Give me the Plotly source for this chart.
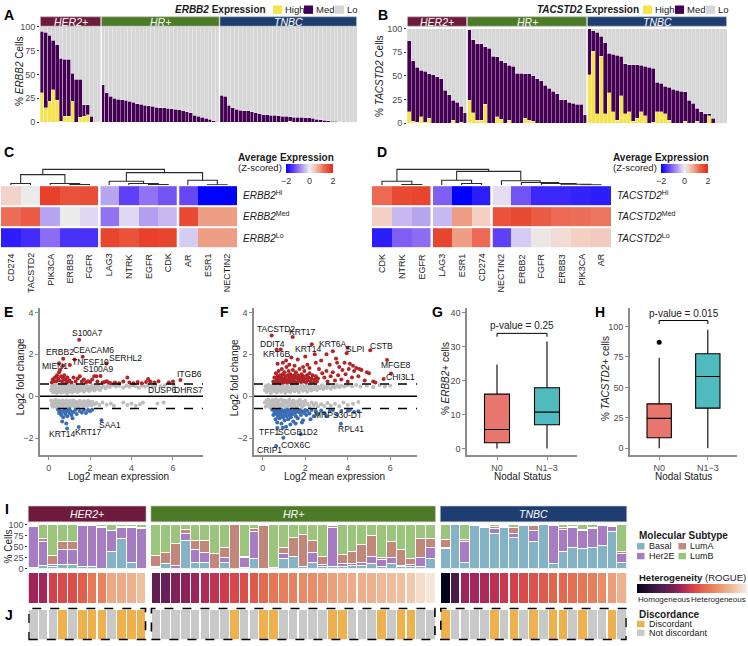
import plotly.graph_objects as go

W, H = 748, 646
FONT = "Liberation Sans, Arial, sans-serif"
TF = dict(family=FONT, size=9, color="#4D4D4D")


def fx(px):
    return px / W


def fy(py):
    return 1 - py / H


# ============================ DATA ============================
STRIP_HER2 = "#6E1A3C"
STRIP_HR = "#4D7A26"
STRIP_TNBC = "#1E3D70"

# ---- Panel A (% ERBB2 cells: total = High+Med, high = High)
A_HER2_TOTAL = [95, 94, 91, 86, 81, 67, 66, 66, 51, 45, 45, 18, 18, 6, 0, 0]
A_HER2_HIGH = [31, 15, 22, 34, 23, 1, 6, 6, 22, 0, 5, 6, 8, 0, 0, 0]
A_HR_TOTAL = [39, 31, 27, 25, 24, 23.5, 23, 22, 21, 19.5, 18.5, 17.5, 17, 16.5, 15.5, 15,
              15, 14.5, 14, 13.5, 13, 12, 11, 10, 7, 6, 5, 4, 3, 1.5, 0]
A_HR_HIGH = [0, 0, 0, 0, 0, 0, 0, 0, 0, 0, 0, 0, 0, 0, 0, 0,
             0, 0, 0, 0, 0, 0, 0, 0, 0, 0, 0, 0, 0, 0, 0]
A_TNBC_TOTAL = [28, 27, 17.5, 15, 13.5, 12.5, 12, 12, 11, 10, 9, 8, 7.5, 7, 7, 6.5, 6, 6,
                5.5, 5, 5, 5, 4.5, 4.5, 4, 3, 2.5, 2, 1.5, 1, 1, 0.5, 0, 0, 0, 0]
A_TNBC_HIGH = [0, 0, 0, 0, 0, 0, 0, 0, 0, 0, 0, 0, 0, 0, 0, 0, 0, 0,
               0.8, 0, 0, 0, 0, 0, 0, 0, 0, 0, 0, 0, 0, 0, 0, 0, 0, 0]

# ---- Panel B (% TACSTD2 cells)
B_HER2_TOTAL = [87, 66, 59, 56, 55, 52, 51, 49, 47, 35, 30, 24, 22, 18, 11]
B_HER2_HIGH = [12, 2, 1, 7, 1, 5, 0, 0, 0, 0, 0, 3, 0, 1, 0]
B_HR_TOTAL = [99, 88, 84, 84, 81, 79, 71, 70, 66, 64, 61, 60, 53, 53, 52, 52, 50, 47, 45, 40,
              37, 34, 31, 25, 25, 22, 21, 20, 20, 9]
B_HR_HIGH = [24, 11, 3, 3, 20, 0, 0, 7, 4, 0, 3, 0, 0, 0, 5, 3, 2, 0, 0, 0,
             0, 0, 0, 0, 0, 0, 0, 0, 0, 0]
B_TNBC_TOTAL = [100, 98, 96, 92, 85, 74, 73, 72, 71, 63, 62, 62, 62, 61, 60, 59, 58, 43, 42, 39,
                38, 36, 35, 34, 33, 24, 21, 16, 12, 10, 10, 5, 0, 0, 0]
B_TNBC_HIGH = [51, 76, 10, 71, 10, 32, 12, 3, 29, 10, 12, 2, 5, 12, 8, 0, 1, 12, 12, 10,
               3, 0, 0, 0, 2, 0, 0, 2, 0, 0, 8, 0, 0, 0, 0]

# ---- Panel C heatmap (z-scored average expression)
C_GENES = ["CD274", "TACSTD2", "PIK3CA", "ERBB3", "FGFR", "LAG3", "NTRK", "EGFR", "CDK", "AR", "ESR1", "NECTIN2"]
C_HI = [0.3, 0.0, 1.7, 1.5, 1.55, -0.55, -1.35, -0.95, -1.2, -1.3, -2.0, -2.0]
C_MED = [1.2, 1.4, -0.55, 0.0, -0.15, -0.95, -0.15, -0.6, -0.4, 1.6, 0.85, 0.85]
C_LO = [-1.7, -1.55, -1.0, -1.5, -1.5, 1.65, 1.5, 1.7, 1.65, -0.25, 0.85, 0.85]
C_ROWS = ["<i>ERBB2</i><sup>Hi</sup>", "<i>ERBB2</i><sup>Med</sup>", "<i>ERBB2</i><sup>Lo</sup>"]
C_SPLITS = [4.5, 8.5]
# dendrogram merges: (left node, right node, height)
C_MERGES = [(10, 11, 0.4), (3, 4, 0.7), (7, 8, 0.7), (0, 1, 1.7), (2, 13, 1.7), (6, 14, 1.7),
            (5, 17, 4.0), (9, 12, 5.0), (15, 16, 10.7), (18, 19, 12.7), (20, 21, 16.0)]

# ---- Panel D heatmap
D_GENES = ["CDK", "NTRK", "EGFR", "LAG3", "ESR1", "CD274", "NECTIN2", "ERBB2", "FGFR", "ERBB3", "PIK3CA", "AR"]
D_HI = [1.25, 1.6, 1.65, -1.1, -2.0, -1.7, -0.1, -1.2, -1.6, -1.6, -1.65, -1.7]
D_MED = [0.35, -0.4, -0.55, -0.4, 0.85, 0.35, 1.5, 1.6, 1.4, 1.25, 1.2, 1.15]
D_LO = [-1.7, -1.1, -1.0, 1.65, 0.85, 1.25, -1.35, -0.25, 0.05, 0.2, 0.35, 0.4]
D_ROWS = ["<i>TACSTD2</i><sup>Hi</sup>", "<i>TACSTD2</i><sup>Med</sup>", "<i>TACSTD2</i><sup>Lo</sup>"]
D_SPLITS = [2.5, 5.5]
D_MERGES = [(1, 2, 0.7), (0, 12, 4.0), (4, 5, 1.7), (3, 14, 5.0), (10, 11, 0.3), (9, 16, 1.0),
            (8, 17, 1.7), (7, 18, 2.7), (6, 19, 4.5), (15, 20, 14.0), (13, 21, 16.0)]

# ---- Panel E (log2 mean expression, log2 fold change)
E_GRAY = [(0.12, 0.30), (0.15, 0.45), (0.18, 0.22), (0.2, 0.52), (0.22, 0.35), (0.25, 0.18), (0.28, 0.42),
          (0.3, 0.28), (0.33, 0.5), (0.35, 0.2), (0.38, 0.38), (0.4, 0.15), (0.42, 0.47), (0.45, 0.3),
          (0.48, 0.55), (0.5, 0.22), (0.52, 0.4), (0.55, 0.32), (0.58, 0.5), (0.6, 0.18), (0.62, 0.44),
          (0.65, 0.27), (0.68, 0.36), (0.7, 0.52), (0.72, 0.2), (0.75, 0.42), (0.78, 0.3), (0.8, 0.48),
          (0.82, 0.24), (0.85, 0.38), (0.88, 0.16), (0.9, 0.54), (0.92, 0.32), (0.95, 0.44), (0.98, 0.22),
          (1.0, 0.36), (1.03, 0.5), (1.06, 0.28), (1.1, 0.42), (1.13, 0.18), (1.16, 0.34), (1.2, 0.5),
          (1.23, 0.25), (1.26, 0.44), (1.3, 0.3), (1.34, 0.52), (1.38, 0.2), (1.42, 0.38), (1.46, 0.46),
          (1.5, 0.26), (1.55, 0.4), (1.6, 0.32), (1.65, 0.5), (1.7, 0.22), (1.75, 0.42), (1.8, 0.3),
          (1.85, 0.48), (1.9, 0.36), (1.95, 0.25), (2.0, 0.44), (2.05, 0.32), (2.1, 0.52), (2.15, 0.38),
          (2.2, 0.28), (2.25, 0.46), (2.32, 0.36), (2.4, 0.5), (2.48, 0.3), (2.55, 0.42), (2.65, 0.48),
          (2.75, 0.38), (2.85, 0.5), (2.95, 0.44), (3.1, 0.52), (3.25, 0.46), (3.4, 0.5), (3.6, 0.42),
          (3.75, 0.5), (3.9, 0.45), (4.05, 0.52), (4.2, 0.48), (4.35, 0.4), (4.5, 0.5), (4.65, 0.46),
          (4.8, 0.52), (5.0, 0.44), (5.15, 0.5), (5.4, 0.48), (5.6, 0.52), (6.05, 0.5),
          (0.12, -0.2), (0.15, -0.4), (0.18, -0.3), (0.2, -0.5), (0.23, -0.25), (0.26, -0.45), (0.3, -0.35),
          (0.33, -0.18), (0.36, -0.5), (0.4, -0.28), (0.43, -0.42), (0.46, -0.2), (0.5, -0.36), (0.53, -0.52),
          (0.56, -0.25), (0.6, -0.44), (0.63, -0.32), (0.66, -0.2), (0.7, -0.48), (0.73, -0.38), (0.76, -0.26),
          (0.8, -0.5), (0.83, -0.34), (0.86, -0.2), (0.9, -0.44), (0.93, -0.28), (0.96, -0.52), (1.0, -0.36),
          (1.04, -0.22), (1.08, -0.46), (1.12, -0.3), (1.16, -0.4), (1.2, -0.2), (1.24, -0.5), (1.28, -0.34),
          (1.32, -0.26), (1.36, -0.44), (1.4, -0.32), (1.45, -0.5), (1.5, -0.22), (1.55, -0.38), (1.6, -0.3),
          (1.65, -0.46), (1.7, -0.24), (1.75, -0.4), (1.8, -0.3), (1.85, -0.48), (1.9, -0.22), (1.95, -0.36),
          (2.0, -0.3), (2.05, -0.44), (2.1, -0.26), (2.2, -0.38), (2.3, -0.32), (2.45, -0.42), (2.6, -0.3),
          (2.8, -0.4), (3.0, -0.35), (3.15, -0.45), (3.6, -0.3), (3.8, -0.42), (4.0, -0.35), (4.2, -0.45),
          (4.4, -0.38), (4.55, -0.3), (5.25, -0.35), (5.55, -0.3)]
E_UP = [(0.15, 0.65), (0.2, 0.8), (0.25, 0.72), (0.3, 0.9), (0.35, 0.7), (0.4, 1.0), (0.45, 0.85),
        (0.5, 1.15), (0.55, 1.25), (0.5, 0.75), (0.6, 0.95), (0.65, 0.7), (0.7, 0.85), (0.75, 1.0),
        (0.8, 0.8), (0.85, 0.65), (0.9, 0.9), (0.95, 0.7), (1.0, 0.75), (1.02, 1.49), (0.7, 1.45),
        (1.1, 0.65), (1.2, 0.9), (1.3, 0.7), (1.4, 0.85), (1.5, 0.95), (1.6, 0.7), (1.7, 0.8),
        (1.8, 0.65), (1.9, 0.72), (2.0, 0.68), (2.1, 0.8), (2.2, 0.95), (2.3, 0.95), (2.35, 0.7),
        (2.6, 0.65), (2.7, 0.68), (2.8, 0.72), (2.9, 0.65), (3.0, 0.62), (3.2, 0.65), (3.4, 0.62),
        (3.6, 0.7), (3.8, 0.9), (3.9, 0.65), (4.1, 0.62), (4.3, 0.68), (4.5, 0.62), (4.7, 0.68),
        (4.8, 0.82), (4.9, 0.7), (5.1, 0.65), (5.3, 0.72), (5.8, 0.65), (6.0, 0.7),
        (1.47, 2.7), (1.64, 1.89), (0.7, 1.79), (0.5, 1.57), (1.25, 1.75), (2.79, 1.56), (2.5, 0.97),
        (6.36, 0.77)]
E_DOWN = [(0.45, -0.65), (0.5, -0.8), (0.55, -0.7), (0.6, -0.9), (0.65, -0.75), (0.7, -1.0), (0.75, -0.68),
          (0.8, -0.85), (0.85, -0.72), (0.9, -0.95), (0.95, -0.65), (1.0, -0.8), (1.05, -0.7), (1.1, -0.9),
          (1.15, -1.05), (1.2, -0.75), (1.3, -0.65), (1.35, -0.85), (1.5, -0.7), (1.6, -0.78), (1.7, -0.65),
          (1.8, -0.8), (1.9, -0.66), (2.0, -0.72), (2.1, -0.65), (0.65, -1.2), (0.85, -1.3), (1.0, -0.62),
          (0.89, -1.54), (1.45, -1.47), (2.55, -1.15)]
E_LABELS = [("S100A7", 1.89, 3.02), ("ERBB2", 0.53, 2.11), ("CEACAM6", 2.17, 2.2), ("MIEN1", 0.31, 1.45),
            ("TNFSF10", 2.03, 1.63), ("SERHL2", 3.7, 1.84), ("S100A9", 2.42, 1.29), ("ITGB6", 6.78, 1.04),
            ("DUSP6", 5.51, 0.31), ("DHRS7", 6.77, 0.31), ("KRT14", 0.69, -1.78), ("KRT17", 1.92, -1.7),
            ("SAA1", 2.98, -1.39)]

# ---- Panel F
F_GRAY = [(0.1, 0.3), (0.14, 0.48), (0.18, 0.2), (0.22, 0.4), (0.26, 0.55), (0.3, 0.28), (0.34, 0.45),
          (0.38, 0.15), (0.42, 0.36), (0.46, 0.52), (0.5, 0.24), (0.54, 0.42), (0.58, 0.32), (0.62, 0.5),
          (0.66, 0.18), (0.7, 0.38), (0.74, 0.28), (0.78, 0.54), (0.82, 0.44), (0.86, 0.22), (0.9, 0.35),
          (0.94, 0.5), (0.98, 0.27), (1.02, 0.42), (1.06, 0.16), (1.1, 0.34), (1.14, 0.53), (1.18, 0.25),
          (1.22, 0.45), (1.26, 0.36), (1.3, 0.2), (1.34, 0.5), (1.38, 0.3), (1.42, 0.42), (1.46, 0.55),
          (1.5, 0.24), (1.55, 0.38), (1.6, 0.48), (1.65, 0.3), (1.7, 0.2), (1.75, 0.44), (1.8, 0.35),
          (1.85, 0.52), (1.9, 0.26), (1.95, 0.4), (2.0, 0.32), (2.05, 0.5), (2.1, 0.22), (2.15, 0.44),
          (2.2, 0.36), (2.25, 0.54), (2.3, 0.28), (2.36, 0.42), (2.42, 0.34), (2.48, 0.5), (2.55, 0.3),
          (2.62, 0.44), (2.7, 0.38), (2.78, 0.52), (2.86, 0.34), (2.94, 0.46), (3.02, 0.4), (3.1, 0.52),
          (3.2, 0.36), (3.3, 0.48), (3.4, 0.42), (3.5, 0.54), (3.6, 0.44), (3.7, 0.5), (3.85, 0.46),
          (4.0, 0.52), (4.2, 0.48), (4.4, 0.54), (4.6, 0.46), (4.9, 0.5), (5.2, 0.44), (5.5, 0.52),
          (5.75, 0.46), (6.0, 0.5),
          (0.1, -0.3), (0.14, -0.5), (0.18, -0.2), (0.22, -0.42), (0.26, -0.15), (0.3, -0.34), (0.34, -0.52),
          (0.38, -0.25), (0.42, -0.44), (0.46, -0.18), (0.5, -0.36), (0.54, -0.5), (0.58, -0.28), (0.62, -0.14),
          (0.66, -0.44), (0.7, -0.32), (0.74, -0.22), (0.78, -0.52), (0.82, -0.38), (0.86, -0.16), (0.9, -0.46),
          (0.94, -0.28), (0.98, -0.4), (1.02, -0.2), (1.06, -0.54), (1.1, -0.34), (1.14, -0.24), (1.18, -0.48),
          (1.22, -0.3), (1.26, -0.16), (1.3, -0.42), (1.34, -0.26), (1.38, -0.5), (1.42, -0.36), (1.46, -0.2),
          (1.5, -0.44), (1.55, -0.3), (1.6, -0.52), (1.65, -0.24), (1.7, -0.4), (1.75, -0.18), (1.8, -0.34),
          (1.85, -0.5), (1.9, -0.28), (1.95, -0.42), (2.0, -0.22), (2.1, -0.36), (2.2, -0.48), (2.3, -0.3),
          (2.4, -0.42), (2.5, -0.34), (2.6, -0.48), (2.75, -0.38), (2.9, -0.46), (3.05, -0.32), (3.2, -0.44),
          (3.4, -0.36), (3.6, -0.48), (3.8, -0.3), (4.0, -0.42), (4.25, -0.36), (4.5, -0.28)]
F_UP = [(0.5, 0.7), (0.55, 0.9), (0.6, 0.65), (0.62, 1.1), (0.65, 0.8), (0.7, 0.95), (0.72, 0.68), (0.75, 1.2),
        (0.78, 0.85), (0.8, 0.7), (0.82, 1.0), (0.85, 0.62), (0.88, 0.9), (0.9, 1.3), (0.92, 0.75), (0.95, 1.05),
        (0.98, 0.66), (1.0, 0.85), (1.02, 1.15), (1.05, 0.7), (1.08, 0.95), (1.1, 0.8), (1.12, 1.4), (1.15, 0.65),
        (1.18, 1.0), (1.2, 0.75), (1.22, 1.2), (1.25, 0.88), (1.28, 0.68), (1.3, 1.05), (1.33, 0.78), (1.36, 0.95),
        (1.4, 0.64), (1.42, 1.25), (1.45, 0.82), (1.48, 1.0), (1.5, 0.7), (1.53, 0.9), (1.56, 1.15), (1.6, 0.66),
        (1.63, 0.85), (1.66, 1.0), (1.7, 0.74), (1.73, 1.3), (1.76, 0.9), (1.8, 0.68), (1.83, 1.05), (1.86, 0.8),
        (1.9, 0.95), (1.93, 0.7), (1.96, 1.2), (2.0, 0.85), (2.04, 0.66), (2.08, 1.0), (2.12, 0.76), (2.16, 0.9),
        (2.2, 1.1), (2.25, 0.7), (2.3, 0.85), (2.35, 1.0), (2.4, 0.68), (2.45, 0.8), (2.5, 0.95), (2.55, 0.7),
        (2.6, 0.85), (0.7, 1.55), (0.95, 1.6), (1.25, 1.5), (1.5, 1.45), (1.65, 1.75), (1.9, 1.4), (2.1, 1.5),
        (2.2, 1.35), (2.5, 1.6), (2.65, 1.3), (2.8, 1.1), (2.9, 0.9), (3.0, 1.2), (3.05, 0.7), (3.15, 1.5),
        (3.2, 0.95), (3.3, 1.15), (3.4, 0.75), (3.45, 1.8), (3.55, 1.0), (3.6, 1.4), (3.7, 0.8), (3.75, 1.25),
        (3.85, 1.6), (3.9, 1.05), (3.95, 2.05), (4.0, 0.7), (4.05, 1.3), (4.1, 1.55), (4.2, 0.9), (4.25, 1.45),
        (4.3, 1.2), (4.4, 1.35), (4.5, 0.95), (4.55, 1.3), (4.65, 1.25), (4.8, 0.75), (4.9, 1.15), (5.0, 1.1),
        (5.2, 0.7), (5.3, 0.65), (2.45, 2.0), (2.0, 1.9), (1.35, 1.85), (3.0, 2.0), (3.5, 1.6), (1.1, 1.7),
        (2.75, 1.7), (0.42, 2.9), (1.41, 2.83), (0.66, 2.23), (0.85, 2.23), (2.31, 2.48), (3.3, 2.15),
        (3.99, 2.31), (5.06, 2.2), (5.85, 1.73), (6.04, 1.08), (5.69, 0.82)]
F_DOWN = [(0.45, -0.65), (0.5, -0.9), (0.55, -0.75), (0.6, -1.1), (0.62, -0.68), (0.65, -0.85), (0.68, -1.25),
          (0.7, -0.72), (0.72, -0.98), (0.75, -0.64), (0.78, -0.82), (0.8, -1.05), (0.82, -0.7), (0.85, -0.9),
          (0.88, -1.3), (0.9, -0.66), (0.92, -0.78), (0.95, -1.0), (0.98, -0.72), (1.0, -0.88), (1.03, -1.15),
          (1.06, -0.68), (1.1, -0.8), (1.13, -0.95), (1.16, -0.64), (1.2, -1.1), (1.23, -0.76), (1.26, -0.88),
          (1.3, -0.66), (1.33, -1.0), (1.36, -0.74), (1.4, -0.86), (1.44, -1.2), (1.48, -0.68), (1.52, -0.8),
          (1.56, -0.95), (1.6, -0.7), (1.65, -1.05), (1.7, -0.76), (1.75, -0.66), (1.8, -0.9), (1.85, -0.72),
          (1.9, -1.15), (1.95, -0.8), (2.0, -0.66), (2.05, -0.9), (2.1, -0.7), (2.2, -0.82), (2.3, -0.66),
          (2.4, -0.95), (2.5, -0.72), (2.6, -0.85), (2.75, -0.68), (2.9, -0.8), (3.0, -0.95), (3.15, -0.7),
          (3.3, -0.66), (3.5, -0.88), (3.7, -0.7), (4.1, -0.66), (4.3, -0.75), (4.5, -0.72), (1.1, -1.45),
          (1.3, -1.35), (0.95, -1.5), (1.55, -1.3), (1.85, -1.25), (2.25, -1.1), (4.0, -0.7), (3.68, -1.31),
          (0.69, -1.51), (1.79, -1.81), (0.63, -2.38), (0.97, -1.98)]
F_LABELS = [("TACSTD2", 0.61, 3.21), ("KRT17", 1.89, 3.07), ("DDIT4", 0.45, 2.51), ("KRT6B", 0.69, 2.0),
            ("KRT14", 2.15, 2.26), ("KRT6A", 3.33, 2.47), ("SLPI", 4.34, 2.24), ("CSTB", 5.58, 2.42),
            ("MFGE8", 6.29, 1.49), ("CHI3L1", 6.48, 0.9), ("MRPS30-DT", 3.52, -0.91), ("RPL41", 4.17, -1.54),
            ("TFF1", 0.3, -1.7), ("SCGB1D2", 1.68, -1.7), ("CRIP1", 0.3, -2.56), ("COX6C", 1.52, -2.33)]

# ---- Panels G / H (box statistics: N0, N1-3)
NODAL = ["N0", "N1−3"]
G_LOW = [0, 0]
G_Q1 = [1.7, 7.0]
G_MED = [5.6, 10.7]
G_Q3 = [16.0, 17.9]
G_HIGH = [24.7, 31.5]
G_PVAL = "p-value = 0.25"
H_LOW = [0, 0]
H_Q1 = [8.7, 33.0]
H_MED = [24.6, 59.0]
H_Q3 = [36.5, 77.6]
H_HIGH = [74.4, 97.3]
H_OUTLIER = [87]
H_PVAL = "p-value = 0.015"

# ---- Panel I (molecular subtype %, per patient)
I_HER2_BASAL = [3, 8, 5, 9, 9, 4, 4, 1, 38, 68, 15, 1]
I_HER2_HER2E = [94, 55, 4, 35, 35, 94, 94, 94, 50, 26, 80, 91]
I_HER2_LUMA = [2, 6, 21, 19, 19, 2, 1, 2, 0, 2, 2, 3]
I_HER2_LUMB = [1, 31, 70, 37, 37, 0, 1, 3, 12, 4, 3, 5]
I_HR_BASAL = [3, 12, 0, 65, 15, 15, 0, 13, 0, 2, 23, 0, 0, 23, 27, 4, 15, 4, 5, 5, 8, 8, 12, 5, 12, 4, 4, 5, 23]
I_HR_HER2E = [2, 0, 7, 15, 29, 21, 1, 12, 0, 23, 62, 1, 2, 11, 1, 0, 21, 5, 90, 6, 4, 5, 16, 16, 13, 3, 5, 21, 26]
I_HR_LUMA = [26, 24, 50, 10, 21, 29, 33, 23, 100, 3, 7, 97, 0, 14, 43, 73, 29, 19, 3, 21, 26, 42, 47, 4, 37, 37, 13, 43, 20]
I_HR_LUMB = [69, 64, 43, 10, 35, 35, 66, 52, 0, 72, 8, 2, 98, 52, 29, 23, 35, 72, 2, 68, 62, 45, 25, 75, 38, 56, 78, 31, 31]
I_TNBC_BASAL = [46, 100, 15, 99, 95, 81, 94, 71, 98, 62, 100, 11, 38, 48, 46, 48, 52, 85, 15]
I_TNBC_HER2E = [2, 0, 48, 0, 2, 11, 2, 9, 0, 24, 0, 87, 52, 46, 40, 44, 46, 11, 20]
I_TNBC_LUMA = [19, 0, 4, 0, 2, 4, 2, 14, 1, 12, 0, 1, 4, 2, 4, 3, 0, 2, 5]
I_TNBC_LUMB = [33, 0, 33, 1, 1, 4, 2, 6, 1, 2, 0, 1, 6, 4, 10, 5, 2, 2, 60]
# heterogeneity (ROGUE, scaled 0 = homogeneous .. 1 = heterogeneous)
I_HER2_ROGUE = [0.40, 0.41, 0.50, 0.53, 0.54, 0.58, 0.66, 0.69, 0.80, 0.81, 0.83, 0.87]
I_HR_ROGUE = [0.27, 0.30, 0.34, 0.36, 0.39, 0.43, 0.46, 0.49, 0.52, 0.54, 0.57, 0.62, 0.65, 0.68, 0.69,
              0.71, 0.72, 0.74, 0.78, 0.80, 0.81, 0.82, 0.83, 0.85, 0.86, 0.87, 0.90, 0.95, 0.98]
I_TNBC_ROGUE = [0.0, 0.2, 0.4, 0.41, 0.42, 0.45, 0.48, 0.5, 0.53, 0.55, 0.57, 0.6, 0.61, 0.63, 0.65,
                0.68, 0.72, 0.77, 0.83]
# ---- Panel J (1 = discordant)
J_HER2 = [0, 0, 0, 1, 0, 1, 1, 1, 0, 1, 1, 1]
J_HR = [0, 0, 0, 0, 0, 0, 0, 0, 1, 0, 0, 1, 1, 0, 0, 0, 0, 0, 1, 1, 0, 0, 0, 1, 0, 1, 1, 0, 0]
J_TNBC = [1, 0, 0, 0, 0, 1, 0, 1, 0, 1, 0, 1, 1, 0, 1, 0, 0, 1, 0]

# ============================ STYLE ============================
YELLOW, PURPLE, LOGRAY = "#F6E54A", "#440154", "#D6D6D6"
RED, BLUE, GRAY = "#B22428", "#3A6DB5", "#BDBDBD"
SAL, TEAL = "#E8766E", "#4FBBBF"
C_BASAL, C_HER2E, C_LUMA, C_LUMB = "#84B3C6", "#A67CC2", "#C1877A", "#9BC47D"
ORANGE, NDGRAY = "#EFB04E", "#C9C9C9"
DIV_SCALE = [[0, "#0000FF"], [0.1625, "#6040F6"], [0.25, "#8B6CF2"], [0.3625, "#B8A5F0"],
             [0.4625, "#E0D8F2"], [0.5, "#EBEBEB"], [0.5875, "#F3CFC4"], [0.7125, "#EE9E84"],
             [0.8, "#EC6E58"], [0.875, "#E9533C"], [0.925, "#E8402A"], [1, "#E62A1A"]]
ROCKET = [[0.0, "#03051A"], [0.2, "#4A1A4A"], [0.3, "#6A1F56"], [0.4, "#A0245B"], [0.5, "#D4404B"],
          [0.6, "#E2654C"], [0.7, "#E78660"], [0.8, "#ECA983"], [0.9, "#F2C8AC"], [1.0, "#F7EDE4"]]

fig = go.Figure()
layout = {}
shapes = []
annotations = []
AXPX = {}


def setax(n, xd, yd, xopts=None, yopts=None):
    xa = "xaxis" if n == 1 else f"xaxis{n}"
    ya = "yaxis" if n == 1 else f"yaxis{n}"
    xr = "x" if n == 1 else f"x{n}"
    yr = "y" if n == 1 else f"y{n}"
    base = dict(showgrid=False, zeroline=False, showline=False, ticks="", showticklabels=False, fixedrange=True)
    X = dict(base, domain=[fx(xd[0]), fx(xd[1])], anchor=yr)
    X.update(xopts or {})
    Y = dict(base, domain=[fy(yd[1]), fy(yd[0])], anchor=xr)
    Y.update(yopts or {})
    layout[xa] = X
    layout[ya] = Y
    if "range" in X:
        AXPX[xr] = (xd, X["range"])
    return xr, yr


def xpix(xr, v):
    (p0, p1), (r0, r1) = AXPX[xr]
    return p0 + (v - r0) / (r1 - r0) * (p1 - p0)


def text(x, y, s, size=10, color="#1A1A1A", xanchor="left", yanchor="middle", angle=0, xref="paper", yref="paper", bold=False):
    if bold:
        s = f"<b>{s}</b>"
    annotations.append(dict(x=x if xref != "paper" else fx(x), y=y if yref != "paper" else fy(y),
                            xref=xref, yref=yref, text=s, showarrow=False, xanchor=xanchor, yanchor=yanchor,
                            textangle=angle, font=dict(family=FONT, size=size, color=color)))


def strip(xr, x0, x1, y0, y1, label, color):
    px0, px1 = xpix(xr, x0), xpix(xr, x1)
    shapes.append(dict(type="rect", xref="paper", yref="paper", x0=fx(px0), x1=fx(px1), y0=fy(y1), y1=fy(y0),
                       fillcolor=color, line=dict(color="#BDBDBD", width=0.6), layer="below"))
    text((px0 + px1) / 2, (y0 + y1) / 2 + 0.5, f"<i>{label}</i>", size=10.5, color="#FFFFFF", xanchor="center")


def rect_px(x0, y0, x1, y1, color):
    shapes.append(dict(type="rect", xref="paper", yref="paper", x0=fx(x0), x1=fx(x1), y0=fy(y1), y1=fy(y0),
                       fillcolor=color, line=dict(width=0), layer="below"))


# ============================ A & B ============================
def expr_panel(n, xd, yd, groups, title_gene, ylab_x, ylab_y):
    totals, highs, bounds = [], [], []
    for tot, hi, _, _ in groups:
        start = len(totals)
        totals += tot
        highs += hi
        bounds.append((start, len(totals) - 1))
    xs = list(range(len(totals)))
    med = [t - h for t, h in zip(totals, highs)]
    lo = [100 - t for t in totals]
    xr, yr = setax(n, xd, yd, dict(range=[-0.5, len(totals) - 0.5]),
                   dict(range=[0, 100], tickvals=[0, 25, 50, 75, 100], showticklabels=True, ticks="outside",
                        ticklen=2, tickcolor="#333", tickfont=TF))
    for vals, col in ((highs, YELLOW), (med, PURPLE), (lo, LOGRAY)):
        fig.add_bar(x=xs, y=vals, width=1, xaxis=xr, yaxis=yr, hoverinfo="skip",
                    marker=dict(color=col, line=dict(color="#EFEFEF", width=0.4)))
    for (s, e), (_, _, label, color) in zip(bounds, groups):
        strip(xr, s - 0.5 + 0.12, e + 0.5 - 0.12, 12, 21.5, label, color)
        if s > 0:
            shapes.append(dict(type="line", xref=xr, yref=yr, x0=s - 0.5, x1=s - 0.5, y0=0, y1=100,
                               line=dict(color="white", width=1.3)))
    text(ylab_x, ylab_y, f"% <i>{title_gene}</i> Cells", size=10, xanchor="center", angle=-90)


expr_panel(1, (40, 357), (22, 119),
           [(A_HER2_TOTAL, A_HER2_HIGH, "HER2+", STRIP_HER2), (A_HR_TOTAL, A_HR_HIGH, "HR+", STRIP_HR),
            (A_TNBC_TOTAL, A_TNBC_HIGH, "TNBC", STRIP_TNBC)], "ERBB2", 20, 68)
expr_panel(2, (407, 727), (24, 120),
           [(B_HER2_TOTAL, B_HER2_HIGH, "HER2+", STRIP_HER2), (B_HR_TOTAL, B_HR_HIGH, "HR+", STRIP_HR),
            (B_TNBC_TOTAL, B_TNBC_HIGH, "TNBC", STRIP_TNBC)], "TACSTD2", 380, 72)

# expression legends
text(268, 5, "<b><i>ERBB2</i> Expression</b>", size=10, xanchor="right")
for x0, col, lab in ((273, YELLOW, "High"), (304, PURPLE, "Med"), (335, LOGRAY, "Lo")):
    rect_px(x0, 0.5, x0 + 9, 9, col)
    text(x0 + 10, 5, lab, size=9.5)
text(641, 5, "<b><i>TACSTD2</i> Expression</b>", size=10, xanchor="right")
for x0, col, lab in ((643, YELLOW, "High"), (675, PURPLE, "Med"), (706, LOGRAY, "Lo")):
    rect_px(x0, 0.5, x0 + 9, 9, col)
    text(x0 + 10, 5, lab, size=9.5)


# ============================ C & D ============================
def dendro_xy(merges, n_leaves):
    pos = {i: float(i) for i in range(n_leaves)}
    hgt = {i: 0.0 for i in range(n_leaves)}
    xs, ys = [], []
    for k, (a, b, h) in enumerate(merges):
        xs += [pos[a], pos[a], pos[b], pos[b], None]
        ys += [hgt[a], h, h, hgt[b], None]
        node = n_leaves + k
        pos[node] = (pos[a] + pos[b]) / 2
        hgt[node] = h
    return xs, ys


def heat_panel(nh, nd, xd, genes, rows_vals, row_labels, merges, splits, cb_x, title_x):
    ncol = len(genes)
    xr, yr = setax(nh, xd, (183, 247), dict(range=[-0.5, ncol - 0.5]), dict(range=[2.5, -0.5]))
    fig.add_trace(go.Heatmap(z=rows_vals, x=list(range(ncol)), y=[0, 1, 2], xaxis=xr, yaxis=yr,
                             colorscale=DIV_SCALE, zmin=-2, zmax=2, ygap=2, hoverinfo="skip",
                             colorbar=dict(orientation="h", x=fx(cb_x), xanchor="left", y=fy(161.5),
                                           yanchor="top", len=47, lenmode="pixels", thickness=9,
                                           thicknessmode="pixels", tickvals=[-2, 0, 2], ticktext=["−2", "0", "2"],
                                           ticks="inside", ticklen=3, tickcolor="white", outlinewidth=0,
                                           tickfont=dict(family=FONT, size=9, color="#333"), xpad=0, ypad=0)))
    for s in splits:
        shapes.append(dict(type="line", xref=xr, yref="paper", x0=s, x1=s, y0=fy(248), y1=fy(182),
                           line=dict(color="white", width=2.5)))
    for i, g in enumerate(genes):
        annotations.append(dict(xref=xr, yref="paper", x=i, y=fy(250.5), text=g, showarrow=False, textangle=-90,
                                xanchor="center", yanchor="top", font=dict(family=FONT, size=9, color="#1A1A1A")))
    for j, lab in enumerate(row_labels):
        text(xd[1] + 3.5, 193 + j * 21.7, lab, size=10)
    dx, dy = setax(nd, xd, (160, 183), dict(range=[-0.5, ncol - 0.5]), dict(range=[0, 23]))
    lx, ly = dendro_xy(merges, ncol)
    fig.add_scatter(x=lx, y=ly, mode="lines", xaxis=dx, yaxis=dy, hoverinfo="skip",
                    line=dict(color="#2B2B2B", width=1.1))
    text(title_x, 154.5, "<b>Average Expression</b>", size=10)
    text(title_x, 165, "(Z-scored)", size=9.5)


heat_panel(3, 4, (1, 237), C_GENES, [C_HI, C_MED, C_LO], C_ROWS, C_MERGES, C_SPLITS, 286, 236)
heat_panel(5, 6, (372, 611), D_GENES, [D_HI, D_MED, D_LO], D_ROWS, D_MERGES, D_SPLITS, 661, 611)

# ============================ E & F ============================
AXL = dict(showline=True, linecolor="#8C8C8C", linewidth=1.8, ticks="outside", ticklen=3, tickcolor="#8C8C8C",
           showticklabels=True, tickfont=TF)


def volcano(n, xd, xrange, gray, up, down, labels, title_x):
    xr, yr = setax(n, xd, (308, 457), dict(AXL, range=xrange, tickvals=[0, 2, 4, 6]),
                   dict(AXL, range=[-2.8, 4.2], tickvals=[-2, 0, 2, 4]))
    for pts, col in ((gray, GRAY), (up, RED), (down, BLUE)):
        fig.add_scatter(x=[p[0] for p in pts], y=[p[1] for p in pts], mode="markers", xaxis=xr, yaxis=yr,
                        hoverinfo="skip", marker=dict(color=col, size=4, line=dict(width=0)))
    shapes.append(dict(type="line", xref=f"{xr} domain", yref=yr, x0=0, x1=1, y0=0, y1=0,
                       line=dict(color="black", width=1.5)))
    for yv in (0.585, -0.585):
        shapes.append(dict(type="line", xref=f"{xr} domain", yref=yr, x0=0, x1=1, y0=yv, y1=yv,
                           line=dict(color="black", width=1.3, dash="dash")))
    for lab, lx, ly in labels:
        text(lx, ly, lab, size=8.5, xanchor="center", xref=xr, yref=yr, color="#111")
    text(title_x, 479, "Log2 mean expression", size=10, xanchor="center")
    text(xd[0] - 20, 378, "Log2 fold change", size=10, xanchor="center", angle=-90)


volcano(7, (40, 203), [-0.42, 7.45], E_GRAY, E_UP, E_DOWN, E_LABELS, 118)
volcano(8, (254, 417), [-0.41, 7.26], F_GRAY, F_UP, F_DOWN, F_LABELS, 334)


# ============================ G & H ============================
def box_panel(n, xd, yrange, ytv, low, q1, med, q3, high, pval, py, outliers, ytitle, ytitle_x):
    xr, yr = setax(n, xd, (308, 457), dict(AXL, range=[0.4, 2.6], tickvals=[1, 2], ticktext=NODAL),
                   dict(AXL, range=yrange, tickvals=ytv))
    for i, col in enumerate((SAL, TEAL)):
        fig.add_trace(go.Box(x=[i + 1], q1=[q1[i]], median=[med[i]], q3=[q3[i]], lowerfence=[low[i]],
                             upperfence=[high[i]], width=0.5, fillcolor=col, xaxis=xr, yaxis=yr,
                             line=dict(color="black", width=1.1), whiskerwidth=0, boxpoints=False,
                             hoverinfo="skip"))
    if outliers:
        fig.add_scatter(x=[1] * len(outliers), y=outliers, mode="markers", xaxis=xr, yaxis=yr,
                        marker=dict(color="black", size=5), hoverinfo="skip")
    yb, yl, yt = py
    fig.add_scatter(x=[1, 1, 2, 2], y=[yl, yb, yb, yl], mode="lines", xaxis=xr, yaxis=yr,
                    line=dict(color="black", width=1), hoverinfo="skip")
    text(1.5, yt, pval, size=10, xanchor="center", xref=xr, yref=yr, color="#222")
    text((xd[0] + xd[1]) / 2, 479, "Nodal Status", size=10, xanchor="center")
    text(ytitle_x, 380, ytitle, size=10, xanchor="center", angle=-90)


box_panel(9, (467, 577), [-1.9, 41.3], [0, 10, 20, 30, 40], G_LOW, G_Q1, G_MED, G_Q3, G_HIGH, G_PVAL,
          (33.9, 32.9, 36.3), [], "% <i>ERBB2</i>+ cells", 445)
box_panel(10, (630, 737), [-5.4, 115], [0, 25, 50, 75, 100], H_LOW, H_Q1, H_MED, H_Q3, H_HIGH, H_PVAL,
          (104.9, 102, 110.5), H_OUTLIER, "% <i>TACSTD2</i>+ cells", 605)

# ============================ I & J ============================
GAP = 0.5
sizes = [len(I_HER2_BASAL), len(I_HR_BASAL), len(I_TNBC_BASAL)]
pos, spans, off = [], [], 0.0
for k, s in enumerate(sizes):
    p = [off + i for i in range(s)]
    pos += p
    spans.append((p[0] - 0.5, p[-1] + 0.5))
    off = p[-1] + 1 + GAP
XR_I = [-0.5, pos[-1] + 0.5]

xi, yi = setax(11, (28.3, 626.7), (528, 572.5), dict(range=XR_I),
               dict(range=[0, 100], tickvals=[0, 25, 50, 75, 100], showticklabels=True, ticks="outside",
                    ticklen=2, tickcolor="#333", tickfont=TF))
for vals, col in ((I_HER2_BASAL + I_HR_BASAL + I_TNBC_BASAL, C_BASAL),
                  (I_HER2_HER2E + I_HR_HER2E + I_TNBC_HER2E, C_HER2E),
                  (I_HER2_LUMA + I_HR_LUMA + I_TNBC_LUMA, C_LUMA),
                  (I_HER2_LUMB + I_HR_LUMB + I_TNBC_LUMB, C_LUMB)):
    fig.add_bar(x=pos, y=vals, width=1, xaxis=xi, yaxis=yi, hoverinfo="skip",
                marker=dict(color=col, line=dict(color="white", width=1)))
for (a, b), lab, col in zip(spans, ["HER2+", "HR+", "TNBC"], [STRIP_HER2, STRIP_HR, STRIP_TNBC]):
    strip(xi, a, b, 509, 525, lab, col)
text(8, 550, "% Cells", size=10, xanchor="center", angle=-90)

xh, yh = setax(12, (28.3, 626.7), (576.5, 608.5), dict(range=XR_I), dict(range=[0, 1]))
rogue = I_HER2_ROGUE + I_HR_ROGUE + I_TNBC_ROGUE
fig.add_bar(x=pos, y=[1] * len(pos), width=1, xaxis=xh, yaxis=yh, hoverinfo="skip",
            marker=dict(color=rogue, colorscale=ROCKET, cmin=0, cmax=1, showscale=True,
                        line=dict(color="white", width=1.2),
                        colorbar=dict(orientation="h", x=fx(636.5), xanchor="left", y=fy(588), yanchor="top",
                                      len=110, lenmode="pixels", thickness=9, thicknessmode="pixels",
                                      showticklabels=False, ticks="", outlinewidth=0, xpad=0, ypad=0)))

xj, yj = setax(13, (28.3, 626.7), (613.5, 644.5), dict(range=XR_I), dict(range=[0, 1]))
disc = J_HER2 + J_HR + J_TNBC
fig.add_bar(x=pos, y=[1] * len(pos), width=1, xaxis=xj, yaxis=yj, hoverinfo="skip",
            marker=dict(color=[ORANGE if d else NDGRAY for d in disc], line=dict(color="white", width=1.2)))
for a, b in spans:
    shapes.append(dict(type="rect", xref=xj, yref="paper", x0=a + 0.05, x1=b - 0.05, y0=fy(644.5), y1=fy(613),
                       line=dict(color="black", width=1.6, dash="dash"), fillcolor="rgba(0,0,0,0)",
                       layer="above"))

# legends for I / J
text(637, 539, "Molecular Subtype", size=10, bold=True)
for (x0, y0, col, lab) in ((637, 546.5, C_BASAL, "Basal"), (678.5, 546.5, C_LUMA, "LumA"),
                           (637, 556.5, C_HER2E, "Her2E"), (678.5, 556.5, C_LUMB, "LumB")):
    rect_px(x0, y0, x0 + 7.5, y0 + 6.5, col)
    text(x0 + 9.5, y0 + 3.3, lab, size=9)
text(637, 581.5, "<b>Heterogeneity</b> (ROGUE)", size=9.5)
text(636, 604, "Homogeneous", size=8)
text(748, 604, "Heterogeneous", size=8, xanchor="right")
text(637, 619, "Discordance", size=10, bold=True)
for (y0, col, lab) in ((625.5, ORANGE, "Discordant"), (634.5, NDGRAY, "Not discordant")):
    rect_px(637, y0, 644.5, y0 + 6.5, col)
    text(646.5, y0 + 3.3, lab, size=9)

# panel letters
for lab, x, y in (("A", 2, 10), ("B", 376, 10), ("C", 2, 149), ("D", 375, 149), ("E", 2, 312),
                  ("F", 218, 312), ("G", 430, 312), ("H", 593, 312), ("I", 3, 512), ("J", 3, 620)):
    text(x, y, f"<b>{lab}</b>", size=14, color="black")

fig.update_layout(width=W, height=H, margin=dict(l=0, r=0, t=0, b=0), paper_bgcolor="white",
                  plot_bgcolor="rgba(0,0,0,0)", showlegend=False, barmode="stack", bargap=0,
                  font=dict(family=FONT, size=10, color="#1A1A1A"), shapes=shapes, annotations=annotations,
                  **layout)

fig.write_html("out.html", config={"displayModeBar": False, "staticPlot": True},
               post_script="document.body.style.margin='0';document.body.style.overflow='hidden';")
